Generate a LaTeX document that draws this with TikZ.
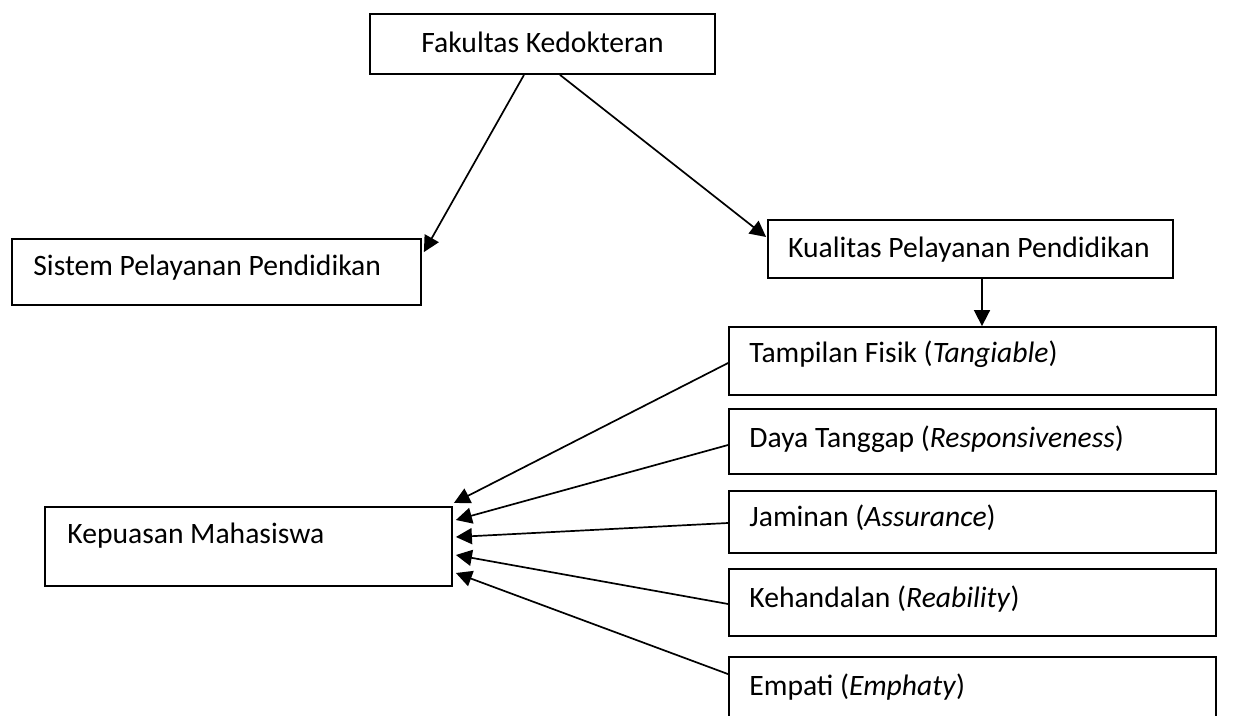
\documentclass[tikz,border=0pt]{standalone}
\usepackage{fontspec}
\setmainfont{Carlito}
\usetikzlibrary{arrows.meta}
\begin{document}
\begin{tikzpicture}[x=0.5pt,y=-0.5pt,
  box/.style={draw,line width=0.9pt,inner sep=0pt,rectangle},
  txt/.style={inner sep=0pt,font=\fontsize{14.8pt}{17pt}\selectfont},
  arr/.style={-{Triangle[length=8pt,width=8pt]},line width=0.85pt}]
\useasboundingbox (0,0) rectangle (1248,716);
\clip (0,0) rectangle (1248,716);
% boxes
\node[box,minimum width=172.5pt,minimum height=30pt] (fk) at (542.5,44) {};
\node[box,minimum width=204.5pt,minimum height=33pt] (sis) at (216.5,272) {};
\node[box,minimum width=202.5pt,minimum height=29pt] (kual) at (970.5,249) {};
\node[box,minimum width=243.5pt,minimum height=34pt] (tam) at (972.5,361) {};
\node[box,minimum width=243.5pt,minimum height=32.5pt] (daya) at (972.5,441.5) {};
\node[box,minimum width=243.5pt,minimum height=31pt] (jam) at (972.5,522) {};
\node[box,minimum width=243.5pt,minimum height=33.5pt] (keh) at (972.5,602.5) {};
\node[box,minimum width=243.5pt,minimum height=41.5pt] (emp) at (972.5,698.5) {};
\node[box,minimum width=203.5pt,minimum height=39.5pt] (kep) at (248.5,546.5) {};
% texts
\node[txt,anchor=base] (fkt) at (542.5,53) {Fakultas Kedokteran};
\node[txt,anchor=base west] (sist) at (33,276) {Sistem Pelayanan Pendidikan};
\node[txt,anchor=base] (kualt) at (969,258) {Kualitas Pelayanan Pendidikan};
\node[txt,anchor=base west] (tamt) at (749,363) {Tampilan Fisik (\textit{Tangiable})};
\node[txt,anchor=base west] (dayat) at (749,448) {Daya Tanggap (\textit{Responsiveness})};
\node[txt,anchor=base west] (jamt) at (749,527) {Jaminan (\textit{Assurance})};
\node[txt,anchor=base west] (keht) at (749,607) {Kehandalan (\textit{Reability})};
\node[txt,anchor=base west] (empt) at (749,695) {Empati (\textit{Emphaty})};
\node[txt,anchor=base west] (kept) at (67,544) {Kepuasan Mahasiswa};
% connectors
\draw[arr] ([xshift=-9.25pt]fk.south) -- ([xshift=1pt,yshift=-7pt]sis.north east);
\draw[arr] ([xshift=8.75pt]fk.south) -- ([xshift=-0.5pt,yshift=6pt]kual.west);
\coordinate (k1) at ([xshift=5.75pt]kual.south);
\draw[arr] (k1) -- (k1 |- tam.north);
\draw[arr] ([yshift=-1pt]tam.west) -- ([xshift=0.5pt,yshift=21.75pt]kep.east);
\draw[arr] ([yshift=-1.75pt]daya.west) -- ([xshift=1.5pt,yshift=13.25pt]kep.east);
\draw[arr] ([yshift=-0.5pt]jam.west) -- ([xshift=1.5pt,yshift=4.75pt]kep.east);
\draw[arr] ([yshift=-0.75pt]keh.west) -- ([xshift=1.5pt,yshift=-4.25pt]kep.east);
\draw[arr] ([yshift=-9pt]emp.north west) -- ([xshift=1.5pt,yshift=-13.25pt]kep.east);
\end{tikzpicture}
\end{document}
